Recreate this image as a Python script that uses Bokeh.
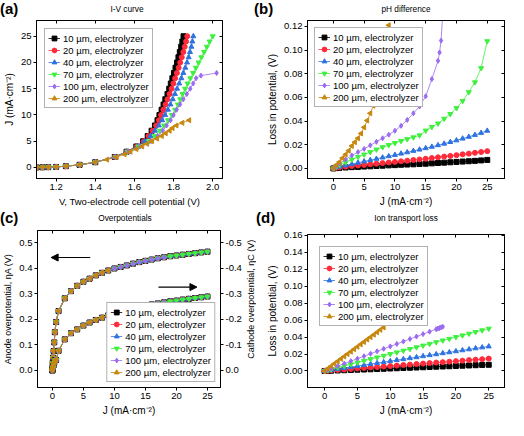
import math
from bokeh.plotting import figure
from bokeh.layouts import column, row
from bokeh.core.properties import value
from bokeh.models import (Range1d, LinearAxis, FixedTicker, PrintfTickFormatter,
                          CustomJSTickFormatter, Arrow, NormalHead, Div)
from bokeh.embed import file_html
from bokeh.resources import INLINE

FONT = "Liberation Sans"

SERIES = ["10 µm, electrolyzer", "20 µm, electrolyzer", "40 µm, electrolyzer",
          "70 µm, electrolyzer", "100 µm, electrolyzer", "200 µm, electrolyzer"]
COLORS = ["#000000", "#ff2a3a", "#2f73e0", "#3ef03e", "#9b6bf2", "#c8870e"]
MARKERS = ["square", "circle", "triangle", "inverted_triangle", "diamond", "triangle"]
ANGLES = [0, 0, 0, 0, 0, math.pi / 2]

# ---------------- (a) I-V curve ----------------
IV_J = [0, 0.03, 0.06, 0.1, 0.25, 0.5, 1, 2, 3, 4, 5, 6, 7, 8, 9, 10, 11, 12, 13,
        14, 15, 16, 17, 18, 19, 20, 21, 22, 23, 24, 25]
IV_J_100 = [0, 0.03, 0.06, 0.1, 0.25, 0.5, 1, 2, 3, 4, 5, 6, 7, 8, 9, 10, 11, 12,
            13, 14, 15, 16, 17, 17.5, 18]
IV_J_200 = [0, 0.03, 0.06, 0.1, 0.25, 0.5, 1, 1.5, 2, 2.5, 3, 3.5, 4, 4.5, 5, 5.5,
            6, 6.5, 7, 7.5, 8, 8.5, 9]
IV_V_10 = [1.10, 1.13, 1.16, 1.20, 1.25, 1.32, 1.40, 1.50, 1.56, 1.61, 1.645, 1.668,
           1.688, 1.705, 1.718, 1.728, 1.739, 1.749, 1.758, 1.769, 1.778, 1.786,
           1.794, 1.802, 1.810, 1.818, 1.825, 1.832, 1.839, 1.845, 1.851]
IV_V_20 = [1.10, 1.13, 1.16, 1.20, 1.25, 1.32, 1.40, 1.50, 1.56, 1.612, 1.648, 1.672,
           1.693, 1.711, 1.725, 1.736, 1.748, 1.759, 1.769, 1.780, 1.790, 1.799,
           1.808, 1.817, 1.826, 1.834, 1.842, 1.850, 1.857, 1.864, 1.870]
IV_V_40 = [1.10, 1.13, 1.16, 1.20, 1.25, 1.32, 1.40, 1.50, 1.56, 1.615, 1.652, 1.682,
           1.705, 1.725, 1.742, 1.757, 1.771, 1.784, 1.796, 1.807, 1.818, 1.829,
           1.840, 1.850, 1.860, 1.869, 1.877, 1.884, 1.891, 1.896, 1.901]
IV_V_70 = [1.10, 1.13, 1.16, 1.20, 1.25, 1.32, 1.40, 1.505, 1.565, 1.62, 1.675, 1.705,
           1.730, 1.752, 1.772, 1.792, 1.808, 1.822, 1.834, 1.846, 1.859, 1.872,
           1.886, 1.900, 1.914, 1.928, 1.942, 1.956, 1.970, 1.984, 2.000]
IV_V_100 = [1.10, 1.13, 1.16, 1.20, 1.25, 1.32, 1.40, 1.505, 1.57, 1.63, 1.685, 1.72,
            1.745, 1.765, 1.785, 1.80, 1.816, 1.833, 1.850, 1.868, 1.885, 1.90,
            1.915, 1.94, 2.02]
IV_V_200 = [1.10, 1.13, 1.16, 1.20, 1.25, 1.32, 1.40, 1.46, 1.51, 1.55, 1.58, 1.61,
            1.64, 1.665, 1.69, 1.715, 1.74, 1.76, 1.78, 1.795, 1.815, 1.845, 1.88]
IV_TICKS_X = [1.2, 1.4, 1.6, 1.8, 2.0]
IV_TICKS_Y = [0, 5, 10, 15, 20, 25]

# ---------------- (b) pH difference ----------------
PH_J = [0, 0.5, 1, 2, 3, 4, 5, 6, 7, 8, 9, 10, 11, 12, 13, 14, 15, 16, 17, 18, 19,
        20, 21, 22, 23, 24, 25]
PH_J_100 = [0, 0.5, 1, 2, 3, 4, 5, 6, 7, 8, 9, 10, 11, 12, 13, 14, 15, 16, 17,
            17.25, 17.5, 17.75, 18]
PH_J_200 = [0, 0.5, 1, 1.5, 2, 2.5, 3, 3.5, 4, 4.5, 5, 5.5, 6, 6.5, 7, 7.5, 8, 8.5, 9]
PH_10 = [0, 0.0003, 0.0005, 0.0008, 0.0011, 0.0013, 0.0016, 0.0018, 0.0021, 0.0023,
         0.0026, 0.0028, 0.0031, 0.0033, 0.0035, 0.0038, 0.0040, 0.0043, 0.0046,
         0.0049, 0.0052, 0.0055, 0.0058, 0.0061, 0.0064, 0.0068, 0.0072]
PH_20 = [0, 0.0006, 0.0009, 0.0015, 0.0020, 0.0025, 0.0030, 0.0035, 0.0040, 0.0045,
         0.0050, 0.0055, 0.0060, 0.0065, 0.0071, 0.0076, 0.0082, 0.0088, 0.0094,
         0.0100, 0.0106, 0.0112, 0.0119, 0.0125, 0.0132, 0.0139, 0.0146]
PH_40 = [0, 0.0010, 0.0015, 0.0025, 0.0036, 0.0048, 0.0059, 0.0070, 0.0081, 0.0092,
         0.0103, 0.0114, 0.0125, 0.0136, 0.0148, 0.0159, 0.0171, 0.0183, 0.0196,
         0.0209, 0.0223, 0.0237, 0.0252, 0.0267, 0.0283, 0.0300, 0.0318]
PH_70 = [0, 0.0015, 0.0028, 0.0052, 0.0075, 0.0098, 0.0118, 0.0138, 0.0160, 0.0180,
         0.0198, 0.0215, 0.0232, 0.0248, 0.0263, 0.0280, 0.0320, 0.0350, 0.0380,
         0.0420, 0.0460, 0.0510, 0.0570, 0.0645, 0.0728, 0.0848, 0.1075]
PH_100 = [0, 0.002, 0.004, 0.0075, 0.011, 0.0138, 0.0165, 0.0195, 0.0225, 0.0255,
          0.0285, 0.0318, 0.036, 0.041, 0.0466, 0.0524, 0.061, 0.0755, 0.0909,
          0.098, 0.108, 0.13, 0.20]
PH_200 = [0, 0.003, 0.0055, 0.0088, 0.0118, 0.015, 0.019, 0.0222, 0.0255, 0.0295,
          0.0347, 0.0405, 0.0466, 0.053, 0.060, 0.070, 0.083, 0.100, 0.121]
PH_TICKS_X = [0, 5, 10, 15, 20, 25]
PH_TICKS_Y = [0.00, 0.02, 0.04, 0.06, 0.08, 0.10, 0.12]

# ---------------- (c) Overpotentials ----------------
OV_J = [0, 0.02, 0.05, 0.1, 0.2, 0.3, 0.4, 0.6, 1, 2, 3, 4, 5, 6, 7, 8, 9, 10, 11,
        12, 13, 14, 15, 16, 17, 18, 19, 20, 21, 22, 23, 24, 25]
OV_ANODE = [0.0, 0.012, 0.03, 0.05, 0.076, 0.11, 0.15, 0.19, 0.233, 0.283, 0.311,
            0.332, 0.348, 0.36, 0.373, 0.383, 0.392, 0.40, 0.406, 0.412, 0.419,
            0.425, 0.43, 0.435, 0.44, 0.444, 0.448, 0.451, 0.454, 0.457, 0.46,
            0.463, 0.466]
OV_CATHODE = [0.0, -0.003, -0.007, -0.012, -0.02, -0.03, -0.04, -0.041, -0.077,
              -0.122, -0.146, -0.161, -0.176, -0.188, -0.198, -0.207, -0.216,
              -0.225, -0.232, -0.238, -0.244, -0.25, -0.255, -0.259, -0.263,
              -0.267, -0.271, -0.274, -0.278, -0.281, -0.284, -0.287, -0.29]
OV_MAXJ = [25, 25, 25, 25, 18, 9]
OV_TICKS_X = [0, 5, 10, 15, 20, 25]
OV_TICKS_Y = [0.0, 0.1, 0.2, 0.3, 0.4, 0.5]
OV_TICKS_Y2 = [-0.5, -0.4, -0.3, -0.2, -0.1, 0.0]

# ---------------- (d) Ion transport loss ----------------
IT_J = [0, 0.5, 1, 2, 3, 4, 5, 6, 7, 8, 9, 10, 11, 12, 13, 14, 15, 16, 17, 18, 19,
        20, 21, 22, 23, 24, 25]
IT_J_100 = [0, 0.5, 1, 2, 3, 4, 5, 6, 7, 8, 9, 10, 11, 12, 13, 14, 15, 16, 17,
            17.25, 17.5, 17.75, 18]
IT_J_200 = [0, 0.5, 1, 1.5, 2, 2.5, 3, 3.5, 4, 4.5, 5, 5.5, 6, 6.5, 7, 7.5, 8, 8.5, 9]
IT_10 = [0, 0.00015, 0.0003, 0.0006, 0.0009, 0.0012, 0.0015, 0.0017, 0.0020, 0.0023,
         0.0026, 0.0029, 0.0032, 0.0035, 0.0038, 0.0041, 0.0044, 0.0047, 0.0050,
         0.0053, 0.0056, 0.0059, 0.0062, 0.0065, 0.0068, 0.0071, 0.0073]
IT_20 = [0, 0.0003, 0.0006, 0.0012, 0.0017, 0.0023, 0.0029, 0.0035, 0.0041, 0.0046,
         0.0052, 0.0058, 0.0064, 0.0070, 0.0075, 0.0081, 0.0087, 0.0093, 0.0099,
         0.0104, 0.0110, 0.0116, 0.0122, 0.0128, 0.0133, 0.0139, 0.0146]
IT_40 = [0, 0.0006, 0.0012, 0.0023, 0.0035, 0.0046, 0.0058, 0.0070, 0.0081, 0.0093,
         0.0104, 0.0116, 0.0128, 0.0139, 0.0151, 0.0162, 0.0174, 0.0186, 0.0197,
         0.0209, 0.0220, 0.0232, 0.0244, 0.0255, 0.0267, 0.0278, 0.0289]
IT_70 = [0, 0.001, 0.002, 0.004, 0.006, 0.008, 0.010, 0.012, 0.014, 0.016, 0.018,
         0.020, 0.022, 0.024, 0.026, 0.028, 0.030, 0.032, 0.034, 0.036, 0.038,
         0.040, 0.042, 0.044, 0.046, 0.048, 0.050]
IT_100 = [0, 0.0015, 0.0029, 0.0058, 0.0087, 0.0116, 0.0145, 0.0174, 0.0203, 0.0232,
          0.0261, 0.0290, 0.0319, 0.0348, 0.0377, 0.0406, 0.0435, 0.0464, 0.0493,
          0.0500, 0.0507, 0.0515, 0.0522]
IT_200 = [0, 0.0029, 0.0057, 0.0086, 0.0114, 0.0143, 0.0171, 0.0200, 0.0228, 0.0257,
          0.0285, 0.0314, 0.0342, 0.0371, 0.0399, 0.0428, 0.0456, 0.0485, 0.0513]
IT_TICKS_X = [0, 5, 10, 15, 20, 25]
IT_TICKS_Y = [-0.02, 0.00, 0.02, 0.04, 0.06, 0.08, 0.10, 0.12, 0.14, 0.16]

JLABEL = "J (mA·cm⁻²)"
EMPTY = CustomJSTickFormatter(code="return ''")

HEAD_H = 17
FIG_H = 192


def make_fig(w, h, xr, yr, bl, br, bt, bb):
    p = figure(width=w, height=h, x_range=Range1d(*xr), y_range=Range1d(*yr),
               output_backend="svg", toolbar_location=None, title=None,
               min_border_left=bl, min_border_right=br, min_border_top=bt,
               min_border_bottom=bb)
    p.xgrid.visible = False
    p.ygrid.visible = False
    p.outline_line_color = "black"
    p.outline_line_width = 1
    p.background_fill_color = "white"
    p.border_fill_color = "white"
    return p


def blank_fig(w, h):
    f = figure(width=w, height=h, x_range=Range1d(0, w), y_range=Range1d(0, h),
               output_backend="svg", toolbar_location=None, title=None,
               x_axis_location=None, y_axis_location=None, min_border=0)
    f.grid.visible = False
    f.outline_line_color = None
    f.background_fill_color = "white"
    f.border_fill_color = "white"
    return f


def header(w, letter, letter_x, title, title_x):
    html = (
        '<div style="position:relative;width:%dpx;height:%dpx;">'
        '<span style="position:absolute;left:%dpx;top:0px;font-family:\'%s\';'
        'font-size:15px;font-weight:bold;line-height:17px;color:black;">%s</span>'
        '<span style="position:absolute;left:%dpx;width:140px;top:4px;'
        'text-align:center;font-family:\'%s\';font-size:8.3px;line-height:10px;'
        'color:black;">%s</span></div>'
    ) % (w, HEAD_H, letter_x, FONT, letter, title_x - 70, FONT, title)
    return Div(text=html, width=w, height=HEAD_H, margin=0)


def style_axis(ax, ticks, fmt, label, tick_in=0, tick_out=3, show=True,
               label_size="10px"):
    ax.ticker = FixedTicker(ticks=ticks)
    ax.minor_tick_line_color = None
    ax.major_tick_in = tick_in
    ax.major_tick_out = tick_out
    ax.axis_line_color = "black"
    ax.major_tick_line_color = "black"
    ax.major_label_text_font = FONT
    ax.major_label_text_color = "black"
    if show:
        ax.formatter = PrintfTickFormatter(format=fmt)
        ax.major_label_standoff = 2
        ax.major_label_text_font_size = "9.5px"
    else:
        ax.formatter = EMPTY
        ax.major_label_standoff = 0
        ax.major_label_text_font_size = "1px"
    if label:
        ax.axis_label = label
        ax.axis_label_text_font = FONT
        ax.axis_label_text_font_size = label_size
        ax.axis_label_text_font_style = "normal"
        ax.axis_label_text_color = "black"
        ax.axis_label_standoff = 3


def mirror(p, xticks, yticks, right=True):
    top = LinearAxis()
    style_axis(top, xticks, "%.1f", None, tick_in=3, tick_out=0, show=False)
    p.add_layout(top, "above")
    if right:
        r = LinearAxis()
        style_axis(r, yticks, "%.1f", None, tick_in=3, tick_out=0, show=False)
        p.add_layout(r, "right")


def add_series(p, xs_list, ys_list, y_range_name="default", legend=True):
    for k in range(6):
        kw = {}
        if legend:
            kw["legend_label"] = SERIES[k]
        p.line(xs_list[k], ys_list[k], line_color=COLORS[k], line_width=1,
               line_alpha=0.8, y_range_name=y_range_name, **kw)
        p.scatter(xs_list[k], ys_list[k], marker=MARKERS[k], size=5,
                  fill_color=COLORS[k], line_color=COLORS[k], angle=ANGLES[k],
                  angle_units="rad", y_range_name=y_range_name, **kw)


def style_legend(p, loc, margin):
    lg = p.legend[0]
    lg.location = loc
    lg.margin = margin
    lg.label_text_font = FONT
    lg.label_text_font_size = "9.5px"
    lg.label_text_color = "black"
    lg.glyph_width = 12
    lg.glyph_height = 12
    lg.label_height = 12
    lg.label_standoff = 3
    lg.spacing = 0
    lg.padding = 3
    lg.border_line_color = "#666666"
    lg.border_line_width = 1
    lg.background_fill_alpha = 1.0


# ---- panel a ----
A_XR = (1.1, 2.05)
A_YR = (-2.1, 28.0)
pa = make_fig(250, FIG_H, A_XR, A_YR, 30, 28, 3, 30)
add_series(pa, [IV_V_10, IV_V_20, IV_V_40, IV_V_70, IV_V_100, IV_V_200],
           [IV_J, IV_J, IV_J, IV_J, IV_J_100, IV_J_200])
style_axis(pa.xaxis[0], IV_TICKS_X, "%.1f", "V, Two-electrode cell potential (V)",
           label_size="9.5px")
style_axis(pa.yaxis[0], IV_TICKS_Y, "%d", JLABEL)
mirror(pa, IV_TICKS_X, IV_TICKS_Y)
style_legend(pa, "top_left", 8)
ha = header(250, "(a)", 0, "I-V curve", 127)

# ---- panel b ----
B_XR = (-4.2, 27.8)
B_YR = (-0.0085, 0.125)
pb = make_fig(258, FIG_H, B_XR, B_YR, 57, 4, 3, 30)
add_series(pb, [PH_J, PH_J, PH_J, PH_J, PH_J_100, PH_J_200],
           [PH_10, PH_20, PH_40, PH_70, PH_100, PH_200])
style_axis(pb.xaxis[0], PH_TICKS_X, "%d", JLABEL)
style_axis(pb.yaxis[0], PH_TICKS_Y, "%.2f", "Loss in potential, (V)")
mirror(pb, PH_TICKS_X, PH_TICKS_Y)
style_legend(pb, "top_left", 7)
hb = header(258, "(b)", 4, "pH difference", 156)

# ---- panel c ----
C_XR = (-2.4, 27.1)
C_YR = (-0.067, 0.549)
pc = make_fig(244, FIG_H, C_XR, C_YR, 30, 24, 4, 28)
pc.extra_y_ranges = {"cath": Range1d(0.067, -0.549)}
xs_c = []
ya_c = []
yc_c = []
for k in range(6):
    n = len([j for j in OV_J if j <= OV_MAXJ[k]])
    xs_c.append(OV_J[:n])
    ya_c.append(OV_ANODE[:n])
    yc_c.append(OV_CATHODE[:n])
add_series(pc, xs_c, ya_c)
add_series(pc, xs_c, yc_c, y_range_name="cath", legend=False)
style_axis(pc.xaxis[0], OV_TICKS_X, "%d", JLABEL)
style_axis(pc.yaxis[0], OV_TICKS_Y, "%.1f", "Anode overpotential, ηA (V)",
           label_size="9px")
raxis = LinearAxis(y_range_name="cath")
style_axis(raxis, OV_TICKS_Y2, "%.1f", None)
pc.add_layout(raxis, "right")
mirror(pc, OV_TICKS_X, OV_TICKS_Y, right=False)
style_legend(pc, "bottom_right", 5)
pc.add_layout(Arrow(x_start=6.1, y_start=0.443, x_end=-0.2, y_end=0.443,
                    line_color="black", line_width=1.2,
                    end=NormalHead(size=7, fill_color="black", line_color="black")))
pc.add_layout(Arrow(x_start=17.1, y_start=0.327, x_end=23.3, y_end=0.327,
                    line_color="black", line_width=1.2,
                    end=NormalHead(size=7, fill_color="black", line_color="black")))
# rotated label for the right (cathode) axis
lc = blank_fig(12, FIG_H)
lc.text(x=[6], y=[(28 + FIG_H - 4) / 2], text=["Cathode overpotential, ηC (V)"],
        text_font=value(FONT), text_font_size="9px", text_color="black",
        text_align="center", text_baseline="middle", angle=math.pi / 2)
hc = header(256, "(c)", 0, "Overpotentials", 125)

# ---- panel d ----
D_XR = (-2.6, 27.4)
D_YR = (-0.0195, 0.161)
pd_ = make_fig(252, FIG_H, D_XR, D_YR, 51, 4, 8, 28)
add_series(pd_, [IT_J, IT_J, IT_J, IT_J, IT_J_100, IT_J_200],
           [IT_10, IT_20, IT_40, IT_70, IT_100, IT_200])
style_axis(pd_.xaxis[0], IT_TICKS_X, "%d", JLABEL)
style_axis(pd_.yaxis[0], IT_TICKS_Y, "%.2f", "Loss in potential, (V)")
mirror(pd_, IT_TICKS_X, IT_TICKS_Y)
style_legend(pd_, "top_left", 12)
hd = header(252, "(d)", 0, "Ion transport loss", 150)

layout = column(
    row(column(ha, pa), column(hb, pb)),
    row(column(hc, row(pc, lc)), column(hd, pd_)),
)
open("out.html", "w").write(file_html(layout, INLINE))
